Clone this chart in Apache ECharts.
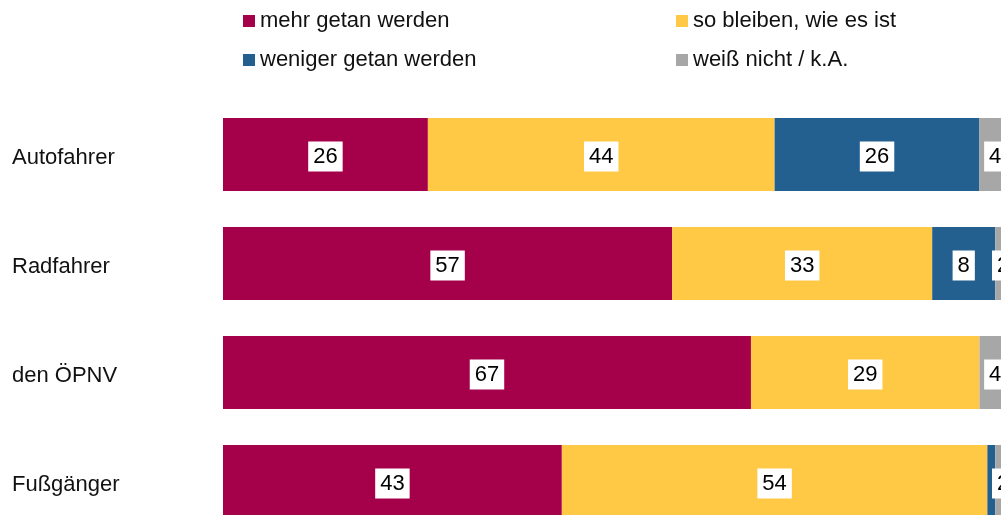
<!DOCTYPE html>
<html>
<head>
<meta charset="utf-8">
<script src="https://cdn.jsdelivr.net/npm/echarts@6/dist/echarts.min.js"></script>
<style>
  html, body { margin: 0; padding: 0; background: #fff; }
  #chart { width: 1001px; height: 515px; }
</style>
</head>
<body>
<div id="chart"></div>
<script>
const categories = ['Autofahrer', 'Radfahrer', 'den ÖPNV', 'Fußgänger'];
const mehr = [26, 57, 67, 43];
const bleiben = [44, 33, 29, 54];
const weniger = [26, 8, 0, 1];
const weissNicht = [4, 2, 4, 2];

const seriesNames = ['mehr getan werden', 'so bleiben, wie es ist', 'weniger getan werden', 'weiß nicht / k.A.'];
const colors = ['#A5004A', '#FFC845', '#23608F', '#A7A7A7'];
const font = 'Liberation Sans, Arial, sans-serif';

const chart = echarts.init(document.getElementById('chart'));

// hide labels on slivers that are too thin
function toData(values) {
  return values.map(v => v > 1 ? v : { value: v, label: { show: false } });
}

function makeSeries(name, values, i) {
  return {
    name: name,
    type: 'bar',
    stack: 'total',
    barWidth: 73,
    itemStyle: { color: colors[i] },
    label: {
      show: true,
      position: 'inside',
      offset: [0, 2],
      color: '#000',
      backgroundColor: '#fff',
      padding: [5, 5, 3, 5],
      fontFamily: font,
      fontSize: 22
    },
    emphasis: { disabled: true },
    data: toData(values)
  };
}

const legendText = { fontFamily: font, fontSize: 22, color: '#111' };

function makeLegend(left, names) {
  return {
    orient: 'vertical',
    left: left,
    top: 10,
    padding: 0,
    itemWidth: 12,
    itemHeight: 12,
    itemGap: 17,
    icon: 'rect',
    textStyle: legendText,
    data: names
  };
}

chart.setOption({
  animation: false,
  legend: [
    makeLegend(243, [seriesNames[0], seriesNames[2]]),
    makeLegend(676, [seriesNames[1], seriesNames[3]])
  ],
  grid: {
    left: 223, top: 100, width: 788, height: 436,
    outerBoundsMode: 'none', containLabel: false
  },
  xAxis: { type: 'value', min: 0, max: 100, show: false },
  yAxis: {
    type: 'category',
    inverse: true,
    data: categories,
    axisLine: { show: false },
    axisTick: { show: false },
    axisLabel: {
      align: 'left',
      margin: 211,
      formatter: v => '{c|' + v + '}',
      rich: {
        c: {
          padding: [6, 0, 0, 0],
          color: '#111',
          fontFamily: font,
          fontSize: 22
        }
      }
    }
  },
  series: [
    makeSeries(seriesNames[0], mehr, 0),
    makeSeries(seriesNames[1], bleiben, 1),
    makeSeries(seriesNames[2], weniger, 2),
    makeSeries(seriesNames[3], weissNicht, 3)
  ]
});
</script>
</body>
</html>
